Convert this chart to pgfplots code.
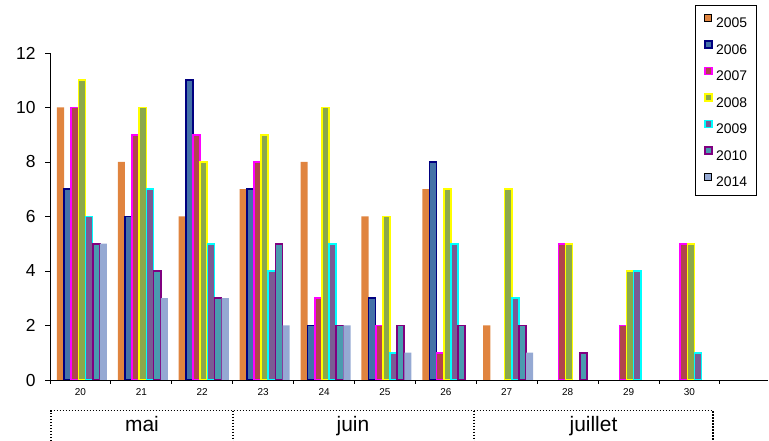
\documentclass[border=0pt]{standalone}
\usepackage{pgfplots}
\pgfplotsset{compat=1.18}
\usepackage{fontspec}
\setmainfont{Liberation Sans}

% series colours: fill / border
\definecolor{f05}{HTML}{E0843F}
\definecolor{f06}{HTML}{4472A8}
\definecolor{b06}{HTML}{000080}
\definecolor{f07}{HTML}{B0454C}
\definecolor{b07}{HTML}{FF00FF}
\definecolor{f08}{HTML}{8BA84B}
\definecolor{b08}{HTML}{FFFF00}
\definecolor{f09}{HTML}{7A5C94}
\definecolor{b09}{HTML}{00FFFF}
\definecolor{f10}{HTML}{4A9BAF}
\definecolor{b10}{HTML}{800080}
\definecolor{f14}{HTML}{95A9D3}

\pgfplotsset{
  sqlegend/.style={legend image code/.code={%
      \draw[##1,bar shift=0pt] (0bp,1.3bp) rectangle (7bp,8.3bp);}},
}

\begin{document}
\begin{tikzpicture}
\useasboundingbox (0bp,0bp) rectangle (769bp,441bp);
\begin{axis}[
  at={(50bp,61bp)}, anchor=south west,
  scale only axis, width=718bp, height=327bp,
  xmin=-0.5, xmax=11.29, ymin=0, ymax=12,
  axis x line*=bottom, axis y line*=left,
  axis line style={line width=0.8bp, black},
  ybar, bar width=7.1bp,
  ytick={0,2,...,12},
  xtick={0,...,10},
  xticklabels={20,21,22,23,24,25,26,27,28,29,30},
  minor xtick={-0.5,0.5,...,11.5},
  major x tick style={draw=none},
  tick align=outside,
  major tick length=5bp, minor tick length=4bp,
  tick style={black, line width=0.8bp},
  y tick label style={font=\fontsize{17.5}{19}\selectfont, xshift=-6bp},
  x tick label style={font=\fontsize{10}{11}\selectfont},
  /pgf/number format/assume math mode=true,
  legend style={
    at={(0.984,1.1468)}, anchor=north east,
    draw=black, line width=0.8bp, inner sep=9bp,
    font=\fontsize{14}{15}\selectfont,
    nodes={inner sep=0pt, text height=9.7bp, text depth=0pt},
    row sep=12.5bp,
    /tikz/every odd column/.append style={column sep=3.5bp},
  },
  legend cell align=left,
]
% 2005
\addplot[sqlegend, bar shift=-19.95bp, fill=f05, draw=none] coordinates
  {(0,10) (1,8) (2,6) (3,7) (4,8) (5,6) (6,7) (7,2)};
% 2006
\addplot[sqlegend, bar shift=-12.8bp, fill=f06, draw=b06, line width=1.6bp] coordinates
  {(0,7) (1,6) (2,11) (3,7) (4,2) (5,3) (6,8)};
% 2007
\addplot[sqlegend, bar shift=-5.65bp, fill=f07, draw=b07, line width=1.6bp] coordinates
  {(0,10) (1,9) (2,9) (3,8) (4,3) (5,2) (6,1) (8,5) (9,2) (10,5)};
% 2008
\addplot[sqlegend, bar shift=1.5bp, fill=f08, draw=b08, line width=1.6bp] coordinates
  {(0,11) (1,10) (2,8) (3,9) (4,10) (5,6) (6,7) (7,7) (8,5) (9,4) (10,5)};
% 2009
\addplot[sqlegend, bar shift=8.65bp, fill=f09, draw=b09, line width=1.6bp] coordinates
  {(0,6) (1,7) (2,5) (3,4) (4,5) (5,1) (6,5) (7,3) (9,4) (10,1)};
% 2010
\addplot[sqlegend, bar shift=15.8bp, fill=f10, draw=b10, line width=1.6bp] coordinates
  {(0,5) (1,4) (2,3) (3,5) (4,2) (5,2) (6,2) (7,2) (8,1)};
% 2014
\addplot[sqlegend, bar shift=22.95bp, fill=f14, draw=none] coordinates
  {(0,5) (1,3) (2,3) (3,2) (4,2) (5,1) (7,1)};
\legend{2005,2006,2007,2008,2009,2010,2014}
\end{axis}

% month bands under the day axis
\begin{scope}[line width=1.5bp, dash pattern=on 1.5bp off 1.5bp, black]
  \draw (51bp,0bp) -- (51bp,30.3bp) -- (713bp,30.3bp) -- (713bp,0bp);
  \draw (233bp,30.3bp) -- (233bp,0bp);
  \draw (474bp,30.3bp) -- (474bp,0bp);
\end{scope}
\begin{scope}[font=\fontsize{21}{24}\selectfont]
  \node[anchor=base, inner sep=0pt] at (142bp,9.3bp) {mai};
  \node[anchor=base, inner sep=0pt] at (353bp,9.3bp) {juin};
  \node[anchor=base, inner sep=0pt] at (593.5bp,9.3bp) {juillet};
\end{scope}
\end{tikzpicture}
\end{document}
